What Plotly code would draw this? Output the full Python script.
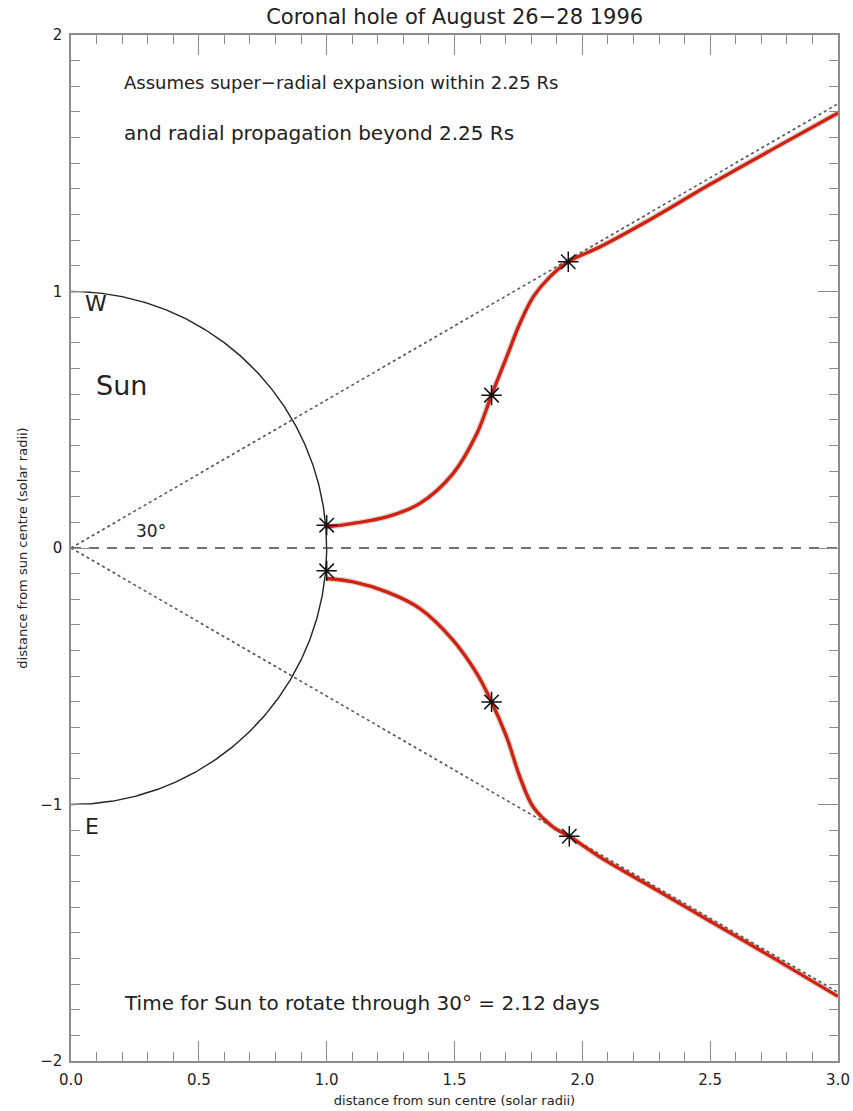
import numpy as np
import plotly.graph_objects as go

# Upper (west) track of the coronal hole edge, in solar radii
upper_x = [1.000, 1.104, 1.235, 1.365, 1.495, 1.587, 1.645, 1.704, 1.756, 1.808, 1.873, 1.945, 2.069, 2.25, 2.50, 2.75, 3.00]
upper_y = [0.082, 0.096, 0.121, 0.174, 0.291, 0.445, 0.596, 0.745, 0.876, 0.979, 1.057, 1.116, 1.174, 1.272, 1.418, 1.558, 1.696]

# Lower (east) track
lower_x = [1.000, 1.104, 1.235, 1.365, 1.495, 1.587, 1.645, 1.704, 1.756, 1.808, 1.886, 1.949, 2.069, 2.25, 2.50, 2.75, 3.00]
lower_y = [-0.119, -0.132, -0.171, -0.236, -0.360, -0.489, -0.600, -0.737, -0.893, -1.010, -1.088, -1.124, -1.205, -1.310, -1.455, -1.600, -1.748]

# Observed positions (asterisks)
obs_x = [1.00, 1.645, 1.945, 1.00, 1.645, 1.949]
obs_y = [0.089, 0.596, 1.116, -0.089, -0.600, -1.124]

sun_radius = 1.0
cone_half_angle_deg = 30.0
x_max = 3.0

x_ticks = [0.0, 0.5, 1.0, 1.5, 2.0, 2.5, 3.0]
x_tick_labels = ["0.0", "0.5", "1.0", "1.5", "2.0", "2.5", "3.0"]
y_ticks = [-2, -1, 0, 1, 2]
y_tick_labels = ["\u22122", "\u22121", "0", "1", "2"]

FONT = "DejaVu Sans"
AXIS_GREY = "#8c8c8c"
INK = "#222222"

fig = go.Figure()

# Solar limb (western hemisphere seen from above)
theta = np.radians(np.linspace(-90, 90, 361))
fig.add_trace(go.Scatter(x=sun_radius * np.cos(theta), y=sun_radius * np.sin(theta),
                         mode="lines", line=dict(color="#222222", width=1.4),
                         hoverinfo="skip", showlegend=False))

# Sun-Earth line
fig.add_trace(go.Scatter(x=[0, x_max], y=[0, 0], mode="lines",
                         line=dict(color="#444444", width=1.6, dash="10px,8px"),
                         hoverinfo="skip", showlegend=False))

# Radial lines at +/- 30 degrees
slope = np.tan(np.radians(cone_half_angle_deg))
for s in (1, -1):
    fig.add_trace(go.Scatter(x=[0, x_max], y=[0, s * slope * x_max], mode="lines",
                             line=dict(color="#555555", width=1.6, dash="dot"),
                             hoverinfo="skip", showlegend=False))

# Expansion tracks (soft shadow then red line)
for xs, ys in ((upper_x, upper_y), (lower_x, lower_y)):
    fig.add_trace(go.Scatter(x=xs, y=ys, mode="lines", line_shape="spline",
                             line=dict(color="rgba(80,80,80,0.22)", width=6),
                             hoverinfo="skip", showlegend=False))
    fig.add_trace(go.Scatter(x=xs, y=ys, mode="lines", line_shape="spline",
                             line=dict(color="#d4210e", width=3.4),
                             showlegend=False))

fig.add_trace(go.Scatter(x=obs_x, y=obs_y, mode="markers",
                         marker=dict(symbol="asterisk-open", size=17, color="#111111",
                                     line=dict(color="#111111", width=1.5)),
                         showlegend=False))


def label(x, y, text, size=19, xanchor="left"):
    fig.add_annotation(x=x, y=y, xref="x", yref="y", text=text, showarrow=False,
                       xanchor=xanchor, yanchor="middle",
                       font=dict(family=FONT, size=size, color=INK))


label(0.20, 1.813, "Assumes super\u2212radial expansion within 2.25 Rs", size=18)
label(0.20, 1.618, "and radial propagation beyond 2.25 Rs", size=20)
label(0.20, -1.775, "Time for Sun to rotate through 30\u00b0 = 2.12 days", size=20)
label(0.045, 0.955, "W", size=22)
label(0.045, -1.085, "E", size=22)
label(0.09, 0.635, "Sun", size=27)
label(0.245, 0.068, "30\u00b0", size=17)

axis_common = dict(
    showgrid=False, zeroline=False, showline=True, linecolor=AXIS_GREY, linewidth=1.5,
    mirror="ticks", ticks="inside", ticklen=20, tickwidth=1.3, tickcolor=AXIS_GREY,
    tickfont=dict(family=FONT, size=15, color=INK), automargin=False,
    ticklabelstandoff=4,
    minor=dict(ticks="inside", ticklen=9, tickwidth=1.2, tickcolor=AXIS_GREY, dtick=0.1),
)

fig.update_xaxes(range=[0, x_max], tickvals=x_ticks, ticktext=x_tick_labels,
                 title=dict(text="distance from sun centre (solar radii)",
                            font=dict(family=FONT, size=13, color=INK), standoff=8),
                 **axis_common)
fig.update_yaxes(range=[-2, 2], tickvals=y_ticks, ticktext=y_tick_labels,
                 title=dict(text="distance from sun centre (solar radii)",
                            font=dict(family=FONT, size=13, color=INK), standoff=10),
                 **axis_common)

fig.update_layout(
    width=853, height=1111,
    margin=dict(l=71, r=15, t=35, b=50, autoexpand=False),
    plot_bgcolor="white", paper_bgcolor="white",
    title=dict(text="Coronal hole of August 26\u221228 1996", x=0.533, xanchor="center",
               y=0.985, yanchor="middle", font=dict(family=FONT, size=21, color=INK)),
)

fig.write_html("out.html")
